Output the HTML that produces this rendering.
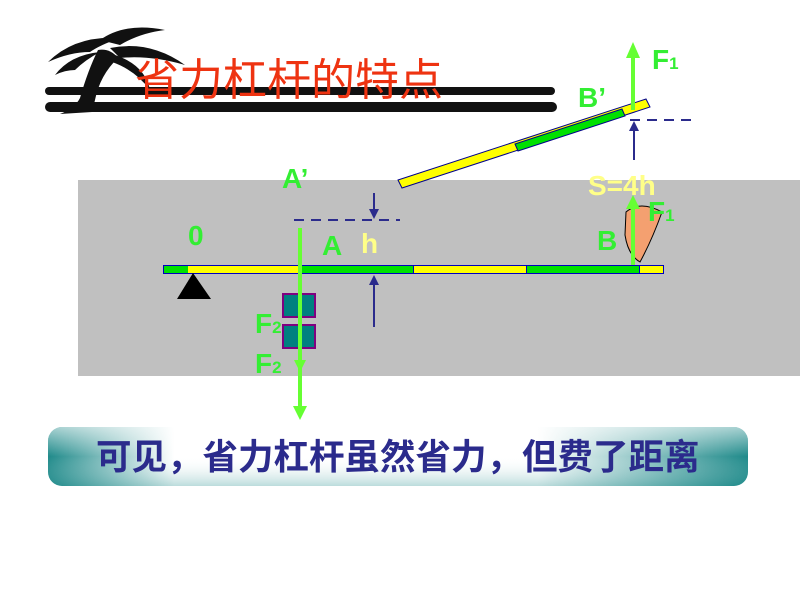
<!DOCTYPE html>
<html><head><meta charset="utf-8"><style>
body{margin:0;width:800px;height:600px;background:#fff;overflow:hidden;position:relative;font-family:"Liberation Sans","Noto Sans CJK SC",sans-serif}
.t{position:absolute;font-weight:bold;white-space:nowrap}
</style></head><body>
<div style="position:absolute;left:78px;top:180px;width:722px;height:196px;background:#c0c0c0"></div>
<svg width="800" height="600" style="position:absolute;left:0;top:0">
<defs>
<linearGradient id="g" x1="0" y1="0" x2="1" y2="0">
<stop offset="0" stop-color="#1f8a8a"/><stop offset="0.18" stop-color="#fff"/><stop offset="0.7" stop-color="#fff"/><stop offset="1" stop-color="#1f8a8a"/></linearGradient>
<linearGradient id="g2" x1="0" y1="0" x2="0" y2="1">
<stop offset="0" stop-color="#fff" stop-opacity="0.6"/><stop offset="0.5" stop-color="#fff" stop-opacity="0"/><stop offset="1" stop-color="#1f8a8a" stop-opacity="0.3"/></linearGradient>
</defs>
<g fill="#111">
<path d="M48,62 Q75,35 120,38 Q100,45 90,52 Q70,52 48,62Z"/>
<path d="M55,75 Q70,55 100,52 Q85,60 75,70 Q65,70 55,75Z"/>
<path d="M100,40 Q125,22 165,30 Q140,33 120,45Z"/>
<path d="M110,48 Q150,40 185,65 Q150,55 120,58Z"/>
<path d="M115,55 Q145,65 150,90 Q135,70 112,62Z"/>
<path d="M98,50 Q110,48 118,58 Q100,75 95,100 L92,112 L60,114 Q75,108 80,98 Q88,70 98,50Z"/>
</g>
<rect x="45" y="87" width="510" height="8" rx="4" fill="#111"/>
<rect x="45" y="102" width="512" height="10" rx="5" fill="#111"/>
<path d="M398,180 L646,99 L650,107 L402,188 Z" fill="#ffff00" stroke="#00008b" stroke-width="1"/>
<path d="M515,144 L622,109 L625,116 L518,151 Z" fill="#00e000" stroke="#00008b" stroke-width="1"/>
<rect x="163.5" y="265.5" width="500" height="8" fill="#ffff00" stroke="#0000c0"/>
<rect x="164" y="266" width="24" height="7" fill="#00e000"/>
<rect x="300" y="266" width="113" height="7" fill="#00e000"/>
<rect x="526" y="266" width="113" height="7" fill="#00e000"/>
<line x1="413.5" y1="266" x2="413.5" y2="273" stroke="#0000c0"/>
<line x1="526.5" y1="266" x2="526.5" y2="273" stroke="#0000c0"/>
<line x1="639.5" y1="266" x2="639.5" y2="273" stroke="#0000c0"/>
<polygon points="193,273 177,299 211,299" fill="#000"/>
<rect x="283" y="294" width="32" height="23" fill="#008080" stroke="#800080" stroke-width="2"/>
<rect x="283" y="325" width="32" height="23" fill="#008080" stroke="#800080" stroke-width="2"/>
<line x1="294" y1="220" x2="400" y2="220" stroke="#2b2b8c" stroke-width="2" stroke-dasharray="10,7"/>
<line x1="630" y1="120" x2="695" y2="120" stroke="#2b2b8c" stroke-width="2" stroke-dasharray="10,7"/>
<line x1="374" y1="193" x2="374" y2="212" stroke="#2b2b8c" stroke-width="2"/>
<polygon points="369,209 379,209 374,219" fill="#2b2b8c"/>
<line x1="374" y1="283" x2="374" y2="327" stroke="#2b2b8c" stroke-width="2"/>
<polygon points="369,285 379,285 374,275" fill="#2b2b8c"/>
<line x1="634" y1="128" x2="634" y2="160" stroke="#2b2b8c" stroke-width="2"/>
<polygon points="629,131 639,131 634,121" fill="#2b2b8c"/>
<path d="M626,212 Q640,200 662,212 Q652,240 640,262 Q628,255 625,235 Z" fill="#f4a070" stroke="#000"/>
<line x1="300" y1="228" x2="300" y2="410" stroke="#66ff33" stroke-width="4"/>
<polygon points="293,406 307,406 300,420" fill="#66ff33"/>
<polygon points="294,360 306,360 300,372" fill="#66ff33"/>
<line x1="633" y1="55" x2="633" y2="110" stroke="#66ff33" stroke-width="4"/>
<polygon points="626,58 640,58 633,42" fill="#66ff33"/>
<line x1="633" y1="205" x2="633" y2="265" stroke="#66ff33" stroke-width="4"/>
<polygon points="626,209 640,209 633,195" fill="#66ff33"/>
<rect x="48" y="427" width="700" height="59" rx="14" fill="url(#g)"/>
<rect x="48" y="427" width="700" height="59" rx="14" fill="url(#g2)"/>
</svg>
<div class="t" style="left:135px;top:51px;font-size:44px;line-height:50px;color:#ee3311;font-weight:normal;font-family:'Noto Sans CJK SC',sans-serif">省力杠杆的特点</div>
<div class="t" style="left:652px;top:44px;font-size:28px;color:#33ee33">F<span style="font-size:17px">1</span></div>
<div class="t" style="left:578px;top:82px;font-size:28px;color:#33ee33">B’</div>
<div class="t" style="left:282px;top:163px;font-size:28px;color:#33ee33">A’</div>
<div class="t" style="left:588px;top:170px;font-size:28px;color:#ffff88">S=4h</div>
<div class="t" style="left:648px;top:196px;font-size:28px;color:#33ee33">F<span style="font-size:17px">1</span></div>
<div class="t" style="left:188px;top:220px;font-size:28px;color:#33ee33">0</div>
<div class="t" style="left:322px;top:230px;font-size:28px;color:#33ee33">A</div>
<div class="t" style="left:361px;top:228px;font-size:28px;color:#ffff88">h</div>
<div class="t" style="left:597px;top:225px;font-size:28px;color:#33ee33">B</div>
<div class="t" style="left:255px;top:308px;font-size:28px;color:#33ee33">F<span style="font-size:17px">2</span></div>
<div class="t" style="left:255px;top:348px;font-size:28px;color:#33ee33">F<span style="font-size:17px">2</span></div>
<div class="t" style="left:96px;top:436px;font-size:35.5px;line-height:42px;color:#2b2b8c">可见，省力杠杆虽然省力，但费了距离</div>
</body></html>
